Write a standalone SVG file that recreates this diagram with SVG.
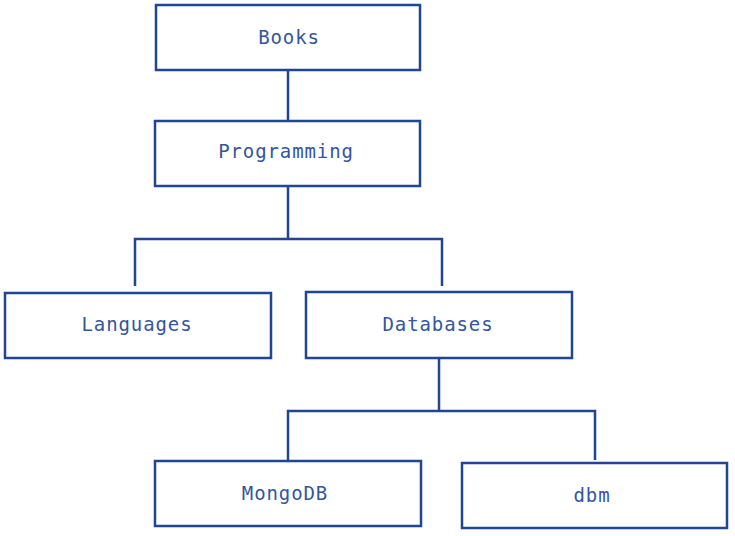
<svg xmlns="http://www.w3.org/2000/svg" width="735" height="536" viewBox="0 0 735 536">
<style>
.box{fill:#fff;stroke:#1f4596;stroke-width:2.5}
.lbl{font-family:"DejaVu Sans Mono","Liberation Mono",monospace;font-size:19px;fill:#34559f;text-anchor:middle;letter-spacing:0.9px}
.conn{fill:none;stroke:#1f4596;stroke-width:2.5}
</style>
<rect width="735" height="536" fill="#fff"/>
<g id="connectors">
<path class="conn" d="M288,70 V121"/>
<path class="conn" d="M288,187 V239 M135,286 V239 H442 V286"/>
<path class="conn" d="M439,359 V411 M288,460 V411 H595 V460"/>
</g>
<g id="node-books"><rect class="box" x="156" y="5" width="264" height="65"/><text class="lbl" x="289" y="44">Books</text></g>
<g id="node-programming"><rect class="box" x="155" y="121" width="265" height="65"/><text class="lbl" x="286" y="158">Programming</text></g>
<g id="node-languages"><rect class="box" x="5" y="293" width="266" height="65"/><text class="lbl" x="137" y="331">Languages</text></g>
<g id="node-databases"><rect class="box" x="306" y="292" width="266" height="66"/><text class="lbl" x="438" y="331">Databases</text></g>
<g id="node-mongodb"><rect class="box" x="155" y="461" width="266" height="65"/><text class="lbl" x="285" y="500">MongoDB</text></g>
<g id="node-dbm"><rect class="box" x="462" y="463" width="265" height="65"/><text class="lbl" x="592" y="502">dbm</text></g>
</svg>
